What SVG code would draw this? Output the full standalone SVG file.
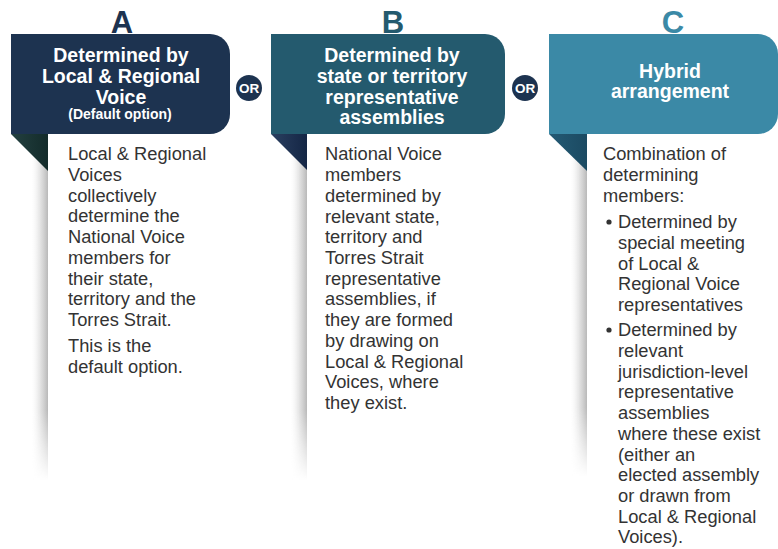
<svg xmlns="http://www.w3.org/2000/svg" width="778" height="549" viewBox="0 0 778 549">
<defs>
<style>
.letter{font-family:"Liberation Sans",Arial,sans-serif;font-weight:bold;font-size:31px;text-anchor:middle}
.head{font-family:"Liberation Sans",Arial,sans-serif;font-weight:bold;font-size:19.5px;fill:#fff;text-anchor:middle}
.sub{font-family:"Liberation Sans",Arial,sans-serif;font-weight:bold;font-size:14px;fill:#fff;text-anchor:middle}
.body{font-family:"Liberation Sans",Arial,sans-serif;font-size:18.3px;fill:#333}
.or{font-family:"Liberation Sans",Arial,sans-serif;font-weight:bold;font-size:13.5px;fill:#fff;text-anchor:middle}
</style>
<linearGradient id="sh" x1="0" y1="0" x2="1" y2="0">
<stop offset="0" stop-color="#fff" stop-opacity="0"/>
<stop offset="0.6" stop-color="#d8d8d8" stop-opacity="0.8"/>
<stop offset="1" stop-color="#b8b8b8"/>
</linearGradient>
<linearGradient id="fade" x1="0" y1="0" x2="0" y2="1">
<stop offset="0" stop-color="#fff"/>
<stop offset="0.8" stop-color="#fff"/>
<stop offset="1" stop-color="#000"/>
</linearGradient>
<mask id="m" maskContentUnits="objectBoundingBox">
<rect x="0" y="0" width="1" height="1" fill="url(#fade)"/>
</mask>
<linearGradient id="tA" x1="0" y1="0" x2="1" y2="0">
<stop offset="0" stop-color="#234040"/>
<stop offset="1" stop-color="#132b2a"/>
</linearGradient>
<linearGradient id="tB" x1="0" y1="0" x2="1" y2="0">
<stop offset="0" stop-color="#2a3f60"/>
<stop offset="1" stop-color="#142645"/>
</linearGradient>
<linearGradient id="tC" x1="0" y1="0" x2="1" y2="0">
<stop offset="0" stop-color="#245a74"/>
<stop offset="1" stop-color="#1b4a62"/>
</linearGradient>
</defs>
<rect width="778" height="549" fill="#fff"/>

<g id="nodeA">
<rect x="30" y="134" width="18" height="346" fill="url(#sh)" mask="url(#m)"/>
<path d="M11 34 H210 A20 20 0 0 1 230 54 V114 A20 20 0 0 1 210 134 H11 Z" fill="#1d3350"/>
<path d="M11 134 H48 V171 Z" fill="url(#tA)"/>
<text class="letter" x="122" y="33" fill="#1d3350">A</text>
<text class="head" x="121" y="62">Determined by</text>
<text class="head" x="121" y="83">Local &amp; Regional</text>
<text class="head" x="121" y="104">Voice</text>
<text class="sub" x="120" y="119">(Default option)</text>
<text class="body" x="68" y="160">Local &amp; Regional</text>
<text class="body" x="68" y="181">Voices</text>
<text class="body" x="68" y="202">collectively</text>
<text class="body" x="68" y="222">determine the</text>
<text class="body" x="68" y="243">National Voice</text>
<text class="body" x="68" y="264">members for</text>
<text class="body" x="68" y="285">their state,</text>
<text class="body" x="68" y="305">territory and the</text>
<text class="body" x="68" y="326">Torres Strait.</text>
<text class="body" x="68" y="352">This is the</text>
<text class="body" x="68" y="373">default option.</text>
</g>

<g id="nodeB">
<rect x="289" y="134" width="18" height="346" fill="url(#sh)" mask="url(#m)"/>
<path d="M271 34 H485 A20 20 0 0 1 505 54 V114 A20 20 0 0 1 485 134 H271 Z" fill="#245a6e"/>
<path d="M271 134 H307 V170 Z" fill="url(#tB)"/>
<text class="letter" x="393" y="33" fill="#245a6e">B</text>
<text class="head" x="392" y="62">Determined by</text>
<text class="head" x="392" y="83">state or territory</text>
<text class="head" x="392" y="104">representative</text>
<text class="head" x="392" y="124">assemblies</text>
<text class="body" x="325" y="160">National Voice</text>
<text class="body" x="325" y="181">members</text>
<text class="body" x="325" y="202">determined by</text>
<text class="body" x="325" y="223">relevant state,</text>
<text class="body" x="325" y="243">territory and</text>
<text class="body" x="325" y="264">Torres Strait</text>
<text class="body" x="325" y="285">representative</text>
<text class="body" x="325" y="305">assemblies, if</text>
<text class="body" x="325" y="326">they are formed</text>
<text class="body" x="325" y="347">by drawing on</text>
<text class="body" x="325" y="368">Local &amp; Regional</text>
<text class="body" x="325" y="388">Voices, where</text>
<text class="body" x="325" y="409">they exist.</text>
</g>

<g id="nodeC">
<rect x="569" y="134" width="18" height="342" fill="url(#sh)" mask="url(#m)"/>
<path d="M549 34 H758 A20 20 0 0 1 778 54 V114 A20 20 0 0 1 758 134 H549 Z" fill="#3b89a6"/>
<path d="M549 134 H587 V171 Z" fill="url(#tC)"/>
<text class="letter" x="673" y="33" fill="#3b89a6">C</text>
<text class="head" x="670" y="78">Hybrid</text>
<text class="head" x="670" y="98">arrangement</text>
<text class="body" x="603" y="160">Combination of</text>
<text class="body" x="603" y="181">determining</text>
<text class="body" x="603" y="202">members:</text>
<circle cx="609" cy="222" r="2.6" fill="#333"/>
<text class="body" x="618" y="228">Determined by</text>
<text class="body" x="618" y="249">special meeting</text>
<text class="body" x="618" y="270">of Local &amp;</text>
<text class="body" x="618" y="290">Regional Voice</text>
<text class="body" x="618" y="311">representatives</text>
<circle cx="609" cy="330" r="2.6" fill="#333"/>
<text class="body" x="618" y="336">Determined by</text>
<text class="body" x="618" y="357">relevant</text>
<text class="body" x="618" y="378">jurisdiction-level</text>
<text class="body" x="618" y="398">representative</text>
<text class="body" x="618" y="419">assemblies</text>
<text class="body" x="618" y="440">where these exist</text>
<text class="body" x="618" y="461">(either an</text>
<text class="body" x="618" y="481">elected assembly</text>
<text class="body" x="618" y="502">or drawn from</text>
<text class="body" x="618" y="523">Local &amp; Regional</text>
<text class="body" x="618" y="543">Voices).</text>
</g>

<g id="or1">
<circle cx="249" cy="88" r="13" fill="#1d3350"/>
<text class="or" x="249" y="93">OR</text>
</g>
<g id="or2">
<circle cx="525" cy="88" r="13" fill="#1d3350"/>
<text class="or" x="525" y="93">OR</text>
</g>
<g id="connectors"></g>
</svg>
